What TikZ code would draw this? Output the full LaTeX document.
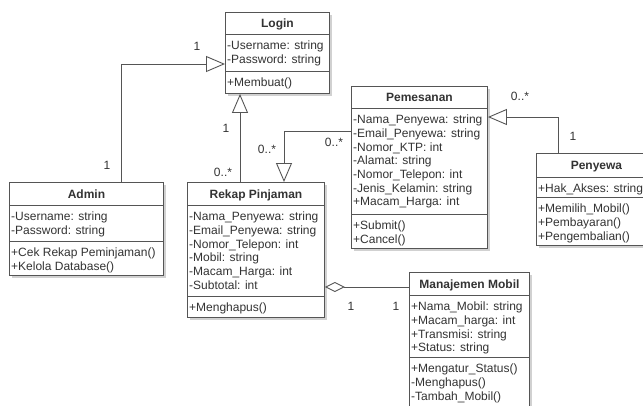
\documentclass[tikz,border=0pt]{standalone}
\usepackage{fontspec}
\setmainfont{Liberation Sans}
\usetikzlibrary{arrows.meta,calc,shadows}

\definecolor{umlline}{HTML}{555555}
\definecolor{umltext}{HTML}{333333}

\tikzset{
  classbox/.style={draw=umlline, line width=0.9pt, fill=white, rectangle,
    anchor=north west, inner sep=0pt,
    drop shadow={shadow xshift=3pt, shadow yshift=-3pt, opacity=0.18, fill=black}},
  compsep/.style={draw=umlline, line width=0.9pt},
  umltxt/.style={inner sep=0pt, text=umltext, align=left, anchor=north west,
    font=\fontsize{12}{13.7}\selectfont},
  umltitle/.style={inner sep=0pt, text=umltext, anchor=base,
    font=\fontsize{12}{13.7}\selectfont\bfseries},
  mult/.style={inner sep=0pt, text=umltext, font=\fontsize{12}{13.7}\selectfont},
  gen/.style={draw=umlline, line width=0.9pt,
    -{Triangle[open, length=19pt, width=16pt, fill=white]}},
  agg/.style={draw=umlline, line width=0.9pt,
    {Diamond[open, length=20pt, width=10pt, fill=white]}-},
}

% \umlclass{name}{corner}{width}{height}{title sep}{ops sep}{title}{attributes}{operations}
\newcommand\umlclass[9]{%
  \node[classbox, minimum width=#3pt, minimum height=#4pt] (#1) at (#2) {};
  \draw[compsep] ($(#1.north west)+(0,#5)$) -- ($(#1.north east)+(0,#5)$);
  \draw[compsep] ($(#1.north west)+(0,#6)$) -- ($(#1.north east)+(0,#6)$);
  \node[umltitle] (#1-title) at ($(#1.north)+(0,{#5*0.5+4.7})$) {#7};
  \node[umltxt] (#1-attr) at ($(#1.north west)+(2,{#5+15.5-9.59})$) {\strut #8};
  \node[umltxt] (#1-ops) at ($(#1.north west)+(2,{#6+15.5-9.59})$) {\strut #9};
}

\begin{document}
\begin{tikzpicture}[x=1pt, y=-1pt]
  \useasboundingbox (0,0) rectangle (643,405);
  \fill[white] (0,0) rectangle (643,405);
  \clip (0,0) rectangle (643,405);

  % classes
  \umlclass{login}{225,12}{104}{81}{22}{59}{Login}
    {-Username: string\\-Password: string}{+Membuat()}
  \umlclass{admin}{9,182}{154}{93}{23}{59}{Admin}
    {-Username: string\\-Password: string}
    {+Cek Rekap Peminjaman()\\+Kelola Database()}
  \umlclass{rekap}{187,182}{137}{135}{23}{114}{Rekap Pinjaman}
    {-Nama\_Penyewa: string\\-Email\_Penyewa: string\\-Nomor\_Telepon: int\\-Mobil: string\\-Macam\_Harga: int\\-Subtotal: int}
    {+Menghapus()}
  \umlclass{pemesanan}{351,86}{136}{162}{22}{128}{Pemesanan}
    {-Nama\_Penyewa: string\\-Email\_Penyewa: string\\-Nomor\_KTP: int\\-Alamat: string\\-Nomor\_Telepon: int\\-Jenis\_Kelamin: string\\+Macam\_Harga: int}
    {+Submit()\\+Cancel()}
  \umlclass{penyewa}{536,153}{120}{92}{24}{44}{Penyewa}
    {+Hak\_Akses: string}
    {+Memilih\_Mobil()\\+Pembayaran()\\+Pengembalian()}
  \umlclass{manajemen}{409,272}{120}{150}{23}{85}{Manajemen Mobil}
    {+Nama\_Mobil: string\\+Macam\_harga: int\\+Transmisi: string\\+Status: string}
    {+Mengatur\_Status()\\-Menghapus()\\-Tambah\_Mobil()}

  % generalisations
  \draw[gen] ($(admin.north west)+(112,0)$) |- ($(login.north west)+(0,52)$);
  \draw[gen] ($(rekap.north west)+(53,0)$) -- ($(login.south west)+(15,0)$);
  \draw[gen] ($(pemesanan.north west)+(0,45)$) -| ($(rekap.north west)+(97,0)$);
  \draw[gen] ($(penyewa.north west)+(22,0)$) |- ($(pemesanan.north east)+(0,31)$);

  % aggregation
  \draw[agg] ($(rekap.north east)+(0,105)$) -- ($(manajemen.north west)+(0,15)$);

  % multiplicities
  \node[mult] (m1) at (197,46) {1};
  \node[mult] (m2) at (107,165) {1};
  \node[mult] (m3) at (226,128) {1};
  \node[mult] (m4) at (223,172) {0..*};
  \node[mult] (m5) at (267,149) {0..*};
  \node[mult] (m6) at (334,142) {0..*};
  \node[mult] (m7) at (520,96) {0..*};
  \node[mult] (m8) at (573,136) {1};
  \node[mult] (m9) at (351,306) {1};
  \node[mult] (m10) at (396,306) {1};
\end{tikzpicture}
\end{document}
